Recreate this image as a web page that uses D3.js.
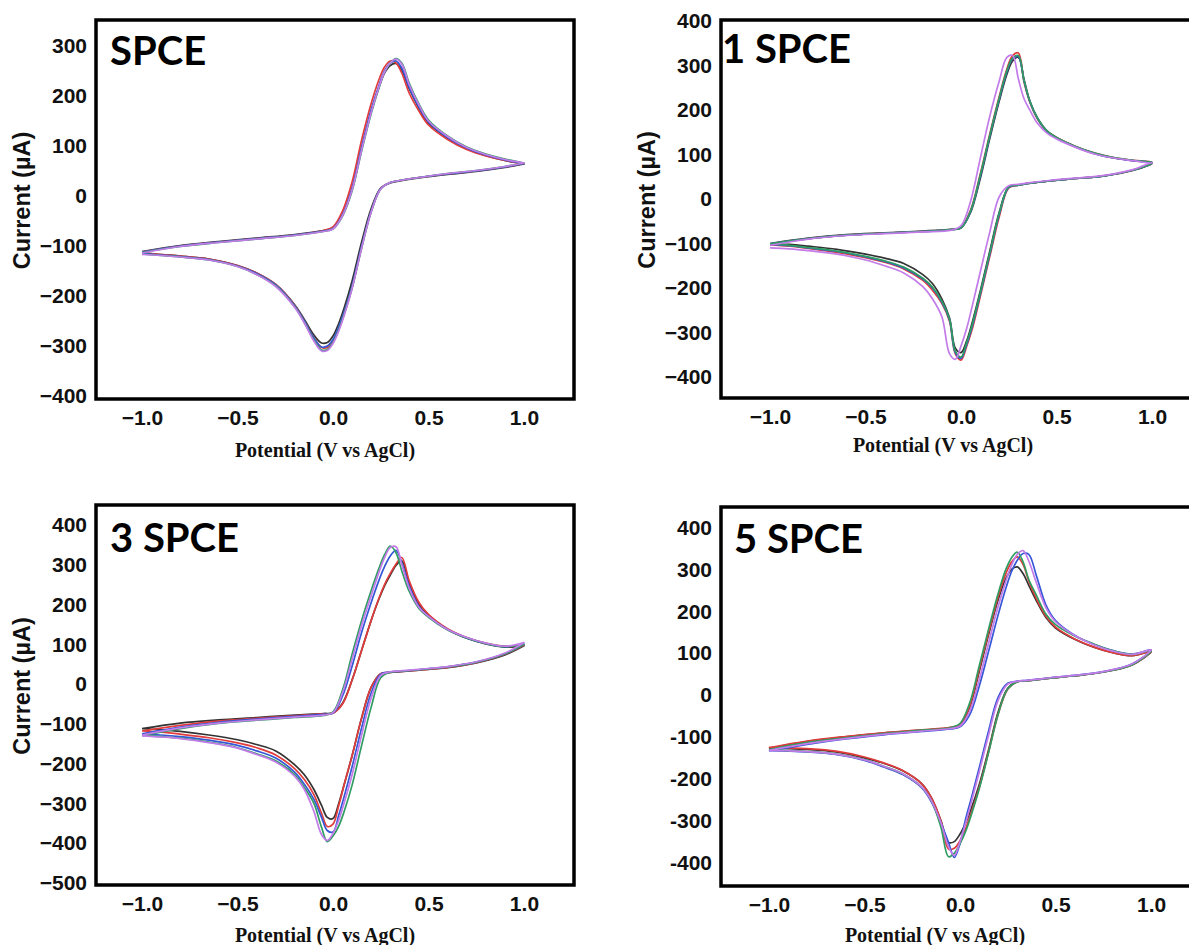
<!DOCTYPE html>
<html>
<head>
<meta charset="utf-8">
<script src="https://cdn.jsdelivr.net/npm/d3@7"></script>
<style>
  body { margin: 0; background: #fff; overflow: hidden; }
  .tick text { font-family: "Liberation Sans", Arial, sans-serif; font-weight: bold; font-size: 21px; fill: #111; }
  .ylab { font-family: "Liberation Sans", Arial, sans-serif; font-weight: bold; font-size: 23.5px; fill: #111; }
  .xlab { font-family: "Liberation Serif", "Times New Roman", serif; font-weight: bold; font-size: 20px; fill: #111; }
  .title { font-family: Lato, "Open Sans", sans-serif; font-weight: bold; font-size: 40px; fill: #000; }
</style>
</head>
<body>
<div id="chart"></div>
<script>
// potential grid (V) for the forward and the reverse sweep
var fwdE = [-1.0, -0.8, -0.6, -0.4, -0.2, -0.05, 0.0, 0.05, 0.1, 0.15, 0.2, 0.24, 0.27, 0.3, 0.33, 0.36, 0.4, 0.45, 0.5, 0.6, 0.7, 0.8, 0.9, 1.0];
var revE = [1.0, 0.9, 0.75, 0.6, 0.45, 0.35, 0.3, 0.25, 0.2, 0.15, 0.1, 0.06, 0.03, 0.0, -0.03, -0.06, -0.1, -0.15, -0.2, -0.3, -0.4, -0.5, -0.65, -0.8, -0.9, -1.0];

// series order: black, red, blue, green, violet
var seriesColors = ["#333333", "#e23b3b", "#3557d6", "#2f9c62", "#c27be9"];

// SPCE (µA)
var spceFwd = [
  [-111, -99, -91, -84, -77, -69, -64, -37, 15, 96, 170, 217, 246, 261, 265, 252, 214, 176, 146, 116, 95, 81, 71, 64],
  [-112, -100, -92, -85, -78, -69, -62, -30, 28, 112, 185, 232, 258, 270, 266, 246, 205, 170, 142, 113, 93, 80, 71, 65],
  [-112, -100, -92, -85, -78, -70, -65, -38, 15, 97, 172, 220, 250, 266, 270, 256, 216, 178, 148, 117, 96, 82, 72, 65],
  [-113, -101, -93, -86, -79, -71, -66, -40, 10, 90, 165, 215, 247, 266, 275, 266, 225, 184, 152, 120, 98, 84, 74, 66],
  [-114, -101, -93, -86, -79, -71, -66, -39, 12, 92, 167, 217, 248, 266, 274, 264, 222, 182, 150, 119, 97, 83, 73, 66]
];
var spceRev = [
  [64, 57, 49, 43, 36, 30, 26, 16, -25, -92, -170, -222, -255, -280, -293, -294, -278, -247, -218, -177, -154, -139, -126, -120, -117, -113],
  [65, 58, 50, 44, 37, 31, 27, 15, -30, -102, -183, -233, -265, -290, -303, -303, -284, -250, -219, -177, -154, -139, -126, -120, -117, -113],
  [65, 58, 50, 44, 37, 31, 27, 15, -30, -100, -180, -230, -262, -287, -300, -302, -284, -250, -220, -178, -155, -140, -127, -121, -118, -114],
  [66, 59, 51, 45, 37, 31, 27, 14, -32, -104, -184, -235, -268, -293, -307, -308, -288, -253, -222, -180, -157, -141, -128, -122, -119, -116],
  [66, 59, 51, 45, 37, 31, 27, 14, -32, -104, -185, -237, -270, -295, -309, -310, -290, -254, -223, -181, -157, -141, -128, -122, -119, -117]
];

// 1 SPCE (µA)
var spce1Fwd = [
  [-100, -88, -80, -76, -72, -68, -65, -30, 45, 135, 220, 280, 310, 318, 268, 220, 182, 153, 138, 117, 102, 92, 86, 81],
  [-102, -89, -81, -77, -73, -69, -64, -25, 55, 145, 230, 292, 322, 328, 262, 218, 180, 152, 138, 118, 103, 93, 87, 82],
  [-101, -89, -81, -77, -73, -69, -65, -28, 50, 140, 225, 286, 315, 320, 265, 219, 181, 152, 137, 117, 102, 92, 86, 82],
  [-101, -89, -81, -77, -73, -69, -65, -27, 52, 142, 227, 288, 317, 322, 266, 220, 182, 153, 138, 118, 103, 93, 87, 82],
  [-104, -90, -82, -78, -74, -70, -60, -5, 90, 185, 265, 318, 322, 270, 225, 200, 170, 148, 135, 116, 101, 92, 86, 81]
];
var spce1Rev = [
  [80, 64, 52, 46, 40, 35, 31, 27, -30, -118, -208, -275, -318, -345, -335, -268, -225, -190, -170, -145, -133, -124, -113, -106, -102, -100],
  [80, 65, 52, 46, 40, 35, 31, 25, -40, -130, -220, -290, -330, -362, -348, -275, -235, -205, -183, -157, -142, -132, -120, -111, -106, -103],
  [81, 65, 52, 46, 40, 35, 31, 26, -35, -125, -215, -284, -326, -358, -345, -272, -232, -200, -180, -155, -140, -130, -118, -110, -105, -102],
  [81, 65, 52, 46, 40, 35, 31, 27, -32, -122, -212, -280, -322, -355, -342, -270, -230, -198, -178, -153, -139, -129, -117, -109, -104, -101],
  [82, 66, 53, 47, 41, 36, 33, 30, 5, -75, -165, -238, -290, -330, -360, -348, -265, -224, -197, -166, -150, -137, -124, -116, -112, -110]
];

// 3 SPCE (µA)
var spce3Fwd = [
  [-112, -98, -90, -84, -78, -74, -72, -48, 10, 85, 160, 213, 247, 274, 298, 310, 252, 200, 172, 137, 115, 101, 93, 96],
  [-118, -104, -93, -86, -80, -75, -73, -50, 10, 85, 160, 215, 250, 278, 302, 318, 258, 205, 175, 139, 117, 103, 95, 98],
  [-125, -108, -96, -88, -81, -76, -73, -30, 45, 130, 205, 260, 295, 322, 336, 305, 245, 195, 170, 137, 116, 102, 94, 100],
  [-130, -112, -99, -91, -84, -79, -70, -15, 75, 160, 235, 290, 325, 347, 330, 285, 232, 190, 168, 136, 116, 102, 94, 100],
  [-128, -110, -98, -90, -83, -78, -72, -22, 62, 148, 222, 280, 318, 343, 345, 300, 240, 193, 170, 137, 117, 103, 95, 104]
];
var spce3Rev = [
  [96, 73, 53, 41, 35, 31, 29, 26, -8, -85, -180, -250, -300, -338, -335, -305, -265, -228, -203, -168, -152, -140, -128, -119, -115, -112],
  [98, 75, 54, 42, 35, 31, 29, 26, -8, -85, -180, -250, -305, -352, -358, -325, -278, -240, -213, -178, -160, -148, -135, -126, -121, -118],
  [100, 76, 55, 43, 36, 32, 30, 25, -22, -110, -208, -280, -330, -372, -368, -335, -290, -252, -222, -186, -168, -154, -141, -132, -128, -126],
  [100, 76, 55, 43, 36, 32, 30, 16, -58, -154, -254, -318, -357, -382, -396, -360, -300, -260, -228, -193, -175, -160, -146, -136, -132, -129],
  [104, 78, 56, 44, 37, 33, 31, 22, -35, -128, -228, -296, -342, -375, -393, -378, -320, -265, -232, -196, -177, -161, -147, -137, -133, -130]
];

// 5 SPCE (µA)
var spce5Fwd = [
  [-127, -111, -100, -91, -84, -78, -71, -30, 55, 145, 228, 278, 300, 306, 290, 262, 225, 185, 160, 133, 114, 101, 94, 104],
  [-126, -110, -99, -90, -83, -77, -70, -27, 60, 150, 235, 290, 318, 330, 312, 272, 230, 188, 162, 134, 115, 101, 94, 104],
  [-134, -118, -105, -95, -87, -81, -76, -48, 20, 105, 192, 255, 295, 322, 338, 336, 285, 215, 178, 143, 121, 106, 98, 108],
  [-130, -113, -102, -92, -84, -78, -68, -20, 68, 158, 243, 300, 328, 341, 318, 276, 238, 193, 168, 141, 122, 106, 97, 106],
  [-132, -116, -104, -94, -86, -80, -74, -40, 35, 125, 212, 272, 310, 336, 345, 320, 268, 208, 175, 142, 120, 105, 97, 108]
];
var spce5Rev = [
  [103, 72, 55, 46, 39, 34, 32, 16, -40, -130, -215, -270, -305, -332, -350, -352, -300, -245, -212, -181, -163, -150, -136, -130, -128, -127],
  [103, 72, 55, 46, 39, 34, 32, 14, -45, -135, -222, -280, -318, -348, -366, -368, -300, -245, -212, -180, -162, -148, -134, -128, -126, -125],
  [106, 74, 56, 47, 40, 35, 33, 28, -5, -85, -175, -245, -295, -355, -388, -352, -305, -255, -222, -190, -172, -156, -142, -136, -134, -133],
  [104, 72, 55, 46, 39, 34, 32, 15, -45, -137, -225, -285, -325, -355, -378, -386, -315, -252, -220, -188, -170, -154, -141, -135, -133, -131],
  [107, 74, 56, 47, 40, 35, 33, 26, -12, -95, -185, -255, -305, -350, -383, -362, -305, -252, -220, -188, -170, -155, -141, -135, -133, -132]
];

var panelTitles = ["SPCE", "1 SPCE", "3 SPCE", "5 SPCE"];
var xTicks = [-1.0, -0.5, 0.0, 0.5, 1.0];
var yTicks1 = [-400, -300, -200, -100, 0, 100, 200, 300];
var yTicks2 = [-400, -300, -200, -100, 0, 100, 200, 300, 400];
var yTicks3 = [-500, -400, -300, -200, -100, 0, 100, 200, 300, 400];
var yTicks4 = [-400, -300, -200, -100, 0, 100, 200, 300, 400];

var panels = [
  {fwd: spceFwd,  rev: spceRev,  title: panelTitles[0], yTicks: yTicks1, left: 96,  top: 20,  w: 478, h: 379,
   xDom: [-1.241, 1.262], yDom: [-406, 352], hyphen: false, yLabel: true,  xLabelX: 325, xLabelDy: 58, titleX: 110, titleY: 65},
  {fwd: spce1Fwd, rev: spce1Rev, title: panelTitles[1], yTicks: yTicks2, left: 721, top: 20,  w: 478, h: 378,
   xDom: [-1.257, 1.246], yDom: [-447, 402], hyphen: false, yLabel: true,  xLabelX: 943, xLabelDy: 54, titleX: 722, titleY: 63},
  {fwd: spce3Fwd, rev: spce3Rev, title: panelTitles[2], yTicks: yTicks3, left: 96,  top: 505, w: 478, h: 380,
   xDom: [-1.241, 1.262], yDom: [-505, 450], hyphen: false, yLabel: true,  xLabelX: 325, xLabelDy: 57, titleX: 110, titleY: 552},
  {fwd: spce5Fwd, rev: spce5Rev, title: panelTitles[3], yTicks: yTicks4, left: 721, top: 507, w: 478, h: 379,
   xDom: [-1.251, 1.251], yDom: [-456, 449], hyphen: true,  yLabel: false, xLabelX: 935, xLabelDy: 56, titleX: 734, titleY: 553}
];

var svg = d3.select("#chart").append("svg")
    .attr("width", 1189)
    .attr("height", 945);

panels.forEach(function(p, pi) {
  var g = svg.append("g").attr("transform", "translate(" + p.left + "," + p.top + ")");

  var x = d3.scaleLinear().domain(p.xDom).range([0, p.w]);
  var y = d3.scaleLinear().domain(p.yDom).range([p.h, 0]);

  var line = d3.line()
      .x(function(d) { return x(d[0]); })
      .y(function(d) { return y(d[1]); })
      .curve(d3.curveCatmullRom.alpha(0.5));

  // one closed CV loop per scan
  p.fwd.forEach(function(f, si) {
    var pts = fwdE.map(function(e, i) { return [e, f[i]]; })
      .concat(revE.map(function(e, i) { return [e, p.rev[si][i]]; }));
    g.append("path")
      .datum(pts)
      .attr("fill", "none")
      .attr("stroke", seriesColors[si])
      .attr("stroke-width", 1.7)
      .attr("stroke-linejoin", "round")
      .attr("d", line);
  });

  // axes: labels only, no tick marks
  var yFmt = p.hyphen ? function(d) { return String(d); } : d3.format("");
  var yAxis = g.append("g")
      .call(d3.axisLeft(y).tickValues(p.yTicks).tickSize(0).tickPadding(9).tickFormat(yFmt));
  yAxis.select(".domain").remove();

  var xAxis = g.append("g")
      .attr("transform", "translate(0," + p.h + ")")
      .call(d3.axisBottom(x).tickValues(xTicks).tickSize(0).tickPadding(11).tickFormat(d3.format(".1f")));
  xAxis.select(".domain").remove();

  // frame
  g.append("rect")
      .attr("width", p.w)
      .attr("height", p.h)
      .attr("fill", "none")
      .attr("stroke", "#000")
      .attr("stroke-width", 3.5);

  // axis titles
  svg.append("text")
      .attr("class", "xlab")
      .attr("text-anchor", "middle")
      .attr("x", p.xLabelX)
      .attr("y", p.top + p.h + p.xLabelDy)
      .text("Potential (V vs AgCl)");

  if (p.yLabel) {
    var cy = p.top + p.h / 2 - 9;
    var cx = p.left - 66;
    svg.append("text")
        .attr("class", "ylab")
        .attr("text-anchor", "middle")
        .attr("transform", "translate(" + cx + "," + cy + ") rotate(-90)")
        .text("Current (µA)");
  }

  svg.append("text")
      .attr("class", "title")
      .attr("x", p.titleX)
      .attr("y", p.titleY)
      .text(p.title);
});
</script>
</body>
</html>
